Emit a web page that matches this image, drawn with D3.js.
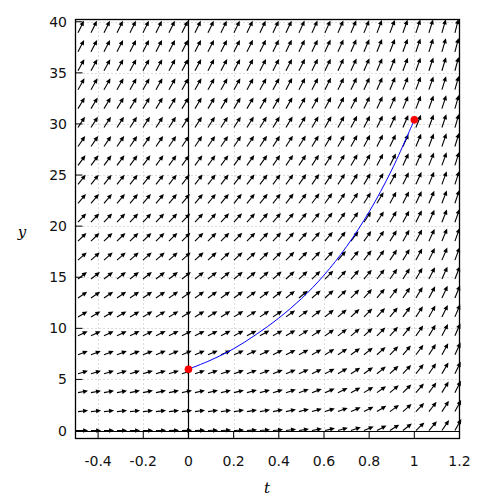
<!DOCTYPE html>
<html><head><meta charset="utf-8">
<script src="https://cdn.jsdelivr.net/npm/d3@7"></script>
<style>body{margin:0;background:#fff}svg{display:block}</style>
</head><body><svg id="c" width="500" height="500"></svg>
<script>
// ---- data ----
const xTicks = [-0.4, -0.2, 0, 0.2, 0.4, 0.6, 0.8, 1, 1.2];
const xTickLabels = ["-0.4", "-0.2", "0", "0.2", "0.4", "0.6", "0.8", "1", "1.2"];
const yTicks = [0, 5, 10, 15, 20, 25, 30, 35, 40];
const yTickLabels = ["0", "5", "10", "15", "20", "25", "30", "35", "40"];
// solution curve
const solT = [0, 0.1, 0.2, 0.3, 0.4, 0.5, 0.6, 0.7, 0.8, 0.9, 1.0];
const solY = [6, 6.9, 8.0, 9.4, 11.0, 12.9, 15.2, 18.0, 21.4, 25.5, 30.4];
const pointT = [0, 1];
const pointY = [6, 30.4];
// direction-field grid (arrow tail positions)
const fieldT = d3.range(30).map(i => -0.489 + i * 0.05754);
const fieldY = d3.range(22).map(j => j * 1.853);
// estimated ODE dy/dt = A*y + B*exp(C*t)
const odeA = 1.15, odeB = 0.57, odeC = 3.59;
const slope = (t, y) => odeA * y + odeB * Math.exp(odeC * t);

// ---- layout ----
const svg = d3.select("#c");
const L = 75.5, R = 459.5, T = 19.5, B = 438.5;
const x = d3.scaleLinear().domain([-0.5, 1.2]).range([L, R]);
const y = d3.scaleLinear().domain([-0.78, 40.22]).range([B, T]);

// grid
const g = svg.append("g");
g.selectAll("line.gx").data(xTicks.filter(d => d !== 0 && d < 1.2)).enter().append("line")
  .attr("x1", d => Math.round(x(d)) + 0.5).attr("x2", d => Math.round(x(d)) + 0.5)
  .attr("y1", T).attr("y2", B)
  .attr("stroke", "#bbbbbb").attr("stroke-width", 1).attr("stroke-dasharray", "1,3");
g.selectAll("line.gy").data(yTicks.filter(d => d !== 0)).enter().append("line")
  .attr("y1", d => Math.round(y(d)) + 0.5).attr("y2", d => Math.round(y(d)) + 0.5)
  .attr("x1", L).attr("x2", R)
  .attr("stroke", "#bbbbbb").attr("stroke-width", 1).attr("stroke-dasharray", "1,3");

// zero axes
svg.append("line").attr("x1", Math.round(x(0)) + 0.5).attr("x2", Math.round(x(0)) + 0.5)
  .attr("y1", T).attr("y2", B).attr("stroke", "#000").attr("stroke-width", 1.2);
svg.append("line").attr("y1", Math.round(y(0)) + 0.5).attr("y2", Math.round(y(0)) + 0.5)
  .attr("x1", L).attr("x2", R).attr("stroke", "#000").attr("stroke-width", 1.2);

// direction field
const cellT = fieldT[1] - fieldT[0], cellY = fieldY[1] - fieldY[0];
const lenCells = 0.78, headLen = 5, headHalf = 2.3;
const arrows = [];
fieldT.forEach(t => fieldY.forEach(yy => {
  const f = slope(t, yy);
  let u = 1 / cellT, v = f / cellY;
  const n = Math.hypot(u, v); u /= n; v /= n;
  const t2 = t + lenCells * cellT * u, y2 = yy + lenCells * cellY * v;
  arrows.push({x1: x(t), y1: y(yy), x2: x(t2), y2: y(y2)});
}));
const fa = svg.append("g");
arrows.forEach(a => {
  const dx = a.x2 - a.x1, dy = a.y2 - a.y1, l = Math.hypot(dx, dy);
  const ux = dx / l, uy = dy / l;
  const bx = a.x2 - ux * headLen, by = a.y2 - uy * headLen;
  fa.append("line").attr("x1", a.x1).attr("y1", a.y1).attr("x2", bx + ux).attr("y2", by + uy)
    .attr("stroke", "#000").attr("stroke-width", 1.1);
  fa.append("path").attr("d", `M${a.x2},${a.y2}L${bx - uy * headHalf},${by + ux * headHalf}L${bx + uy * headHalf},${by - ux * headHalf}Z`)
    .attr("fill", "#000");
});

// solution curve
const line = d3.line().x(d => x(d[0])).y(d => y(d[1])).curve(d3.curveCatmullRom);
svg.append("path").datum(solT.map((t, i) => [t, solY[i]])).attr("d", line)
  .attr("fill", "none").attr("stroke", "#0000ff").attr("stroke-width", 1);
svg.selectAll("circle.p").data(pointT.map((t, i) => [t, pointY[i]])).enter().append("circle")
  .attr("cx", d => x(d[0])).attr("cy", d => y(d[1])).attr("r", 3.8).attr("fill", "#ff0000");

// border
svg.append("rect").attr("x", L).attr("y", T).attr("width", R - L).attr("height", B - T)
  .attr("fill", "none").attr("stroke", "#000").attr("stroke-width", 1.3);

// ticks
svg.selectAll("line.tx").data(xTicks.filter(d => d < 1.2)).enter().append("line")
  .attr("x1", d => x(d)).attr("x2", d => x(d)).attr("y1", B).attr("y2", B - 7)
  .attr("stroke", "#000").attr("stroke-width", 1);
svg.selectAll("line.ty").data(yTicks).enter().append("line")
  .attr("y1", d => y(d)).attr("y2", d => y(d)).attr("x1", L).attr("x2", L + 7)
  .attr("stroke", "#000").attr("stroke-width", 1);

// tick labels
const font = "DejaVu Sans, sans-serif";
svg.selectAll("text.xl").data(xTicks).enter().append("text")
  .attr("x", d => x(d)).attr("y", 466).attr("text-anchor", "middle")
  .attr("font-family", font).attr("font-size", 14).attr("fill", "#111")
  .text((d, i) => xTickLabels[i]);
svg.selectAll("text.yl").data(yTicks).enter().append("text")
  .attr("x", 67).attr("y", d => y(d) + 5).attr("text-anchor", "end")
  .attr("font-family", font).attr("font-size", 14).attr("fill", "#111")
  .text((d, i) => yTickLabels[i]);

// axis titles
svg.append("text").attr("x", 267).attr("y", 493).attr("text-anchor", "middle")
  .attr("font-family", "DejaVu Serif, serif").attr("font-style", "italic").attr("font-size", 15).text("t");
svg.append("text").attr("x", 22).attr("y", 237).attr("text-anchor", "middle")
  .attr("font-family", "DejaVu Serif, serif").attr("font-style", "italic").attr("font-size", 15).text("y");
</script></body></html>
